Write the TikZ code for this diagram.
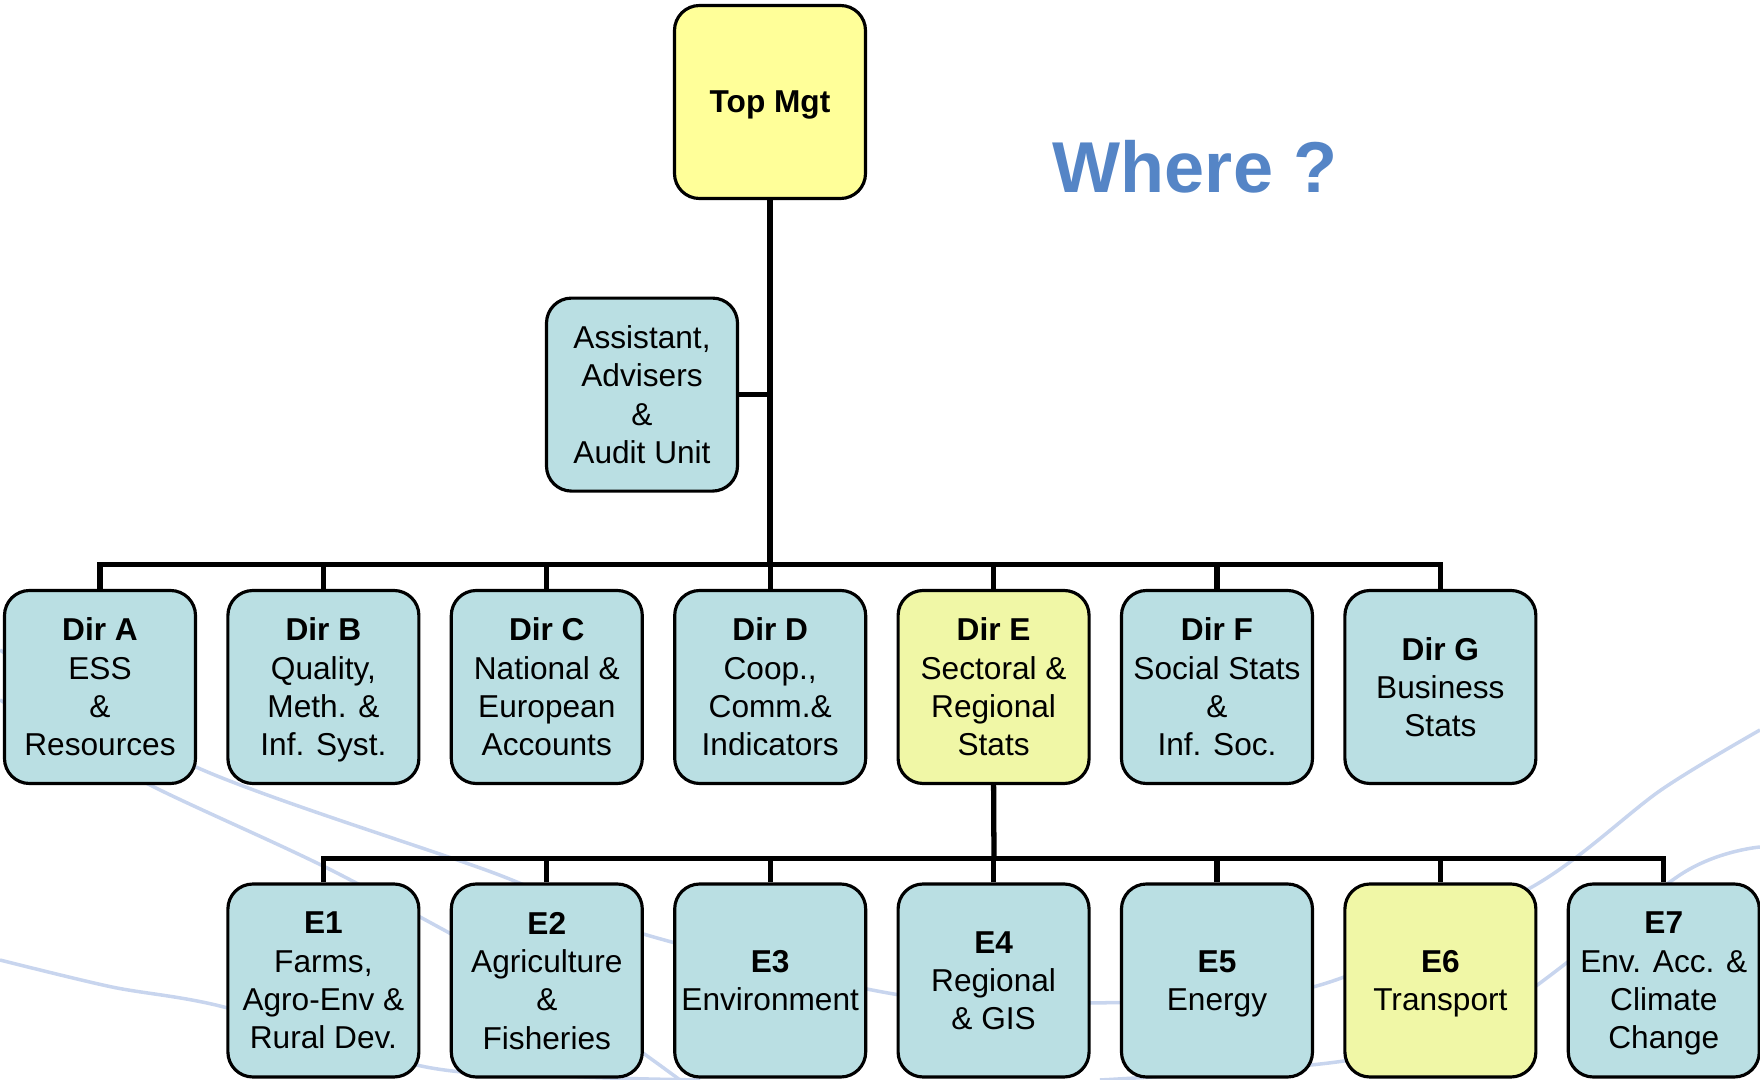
\documentclass[tikz,border=0pt]{standalone}
\usepackage{fontspec}
\setmainfont{Liberation Sans}
\definecolor{unitblue}{RGB}{186,223,227}
\definecolor{topyellow}{RGB}{255,255,153}
\definecolor{hereyellow}{RGB}{240,247,166}
\definecolor{wherecol}{RGB}{85,133,198}
\definecolor{swoosh}{RGB}{200,213,238}
\tikzset{
    unit/.style={draw=black, line width=0.9pt, fill=unitblue, rounded corners=0.25cm,
        minimum width=1.91cm, minimum height=1.93cm, inner sep=0pt, align=center,
        text depth=0pt, font=\fontsize{9}{10.9}\selectfont},
    orgline/.style={line width=1.5pt, line join=miter},
}
\begin{document}
\begin{tikzpicture}
    \useasboundingbox (0,0) rectangle (17.6,-10.8);
    \newcommand{\gap}{2.234}
    % background lines
    \draw[swoosh, line width=1pt] plot[smooth] coordinates {(0,-6.5) (1.96,-7.67) (4.94,-8.73) (6.4,-9.33) (9.0,-9.95) (10.9,-10.03) (13.13,-9.87) (15.32,-8.87) (16.61,-7.9) (17.6,-7.3)};
    \draw[swoosh, line width=1pt] plot[smooth] coordinates {(0,-7.0) (1.46,-7.83) (3.37,-8.73) (5.5,-9.9) (6.8,-10.8)};
    \draw[swoosh, line width=1pt] plot[smooth] coordinates {(0,-9.6) (1.12,-9.87) (2.24,-10.07) (4.26,-10.67) (5.84,-10.77) (7.0,-10.8)};
    \draw[swoosh, line width=1pt] plot[smooth] coordinates {(17.6,-8.47) (16.83,-8.73) (15.0,-10.1) (13.5,-10.6) (11.0,-10.8)};

    \node[unit, fill=topyellow] (top) at (7.70,-1.02) {\bfseries Top Mgt};
    \node[unit] (assist) at (6.42,-3.946) {Assistant,\\Advisers\\\&\\Audit Unit};

    \node[unit] (dirA) at (1.00,-6.87) {\bfseries Dir A\\ESS\\\&\\Resources};
    \node[unit] (dirB) at (1.00+\gap,-6.87) {\bfseries Dir B\\Quality,\\Meth. \&\\Inf. Syst.};
    \node[unit] (dirC) at (1.00+2*\gap,-6.87) {\bfseries Dir C\\National \&\\European\\Accounts};
    \node[unit] (dirD) at (1.00+3*\gap,-6.87) {\bfseries Dir D\\Coop.,\\Comm.\&\\Indicators};
    \node[unit, fill=hereyellow] (dirE) at (1.00+4*\gap,-6.87) {\bfseries Dir E\\Sectoral \&\\Regional\\Stats};
    \node[unit] (dirF) at (1.00+5*\gap,-6.87) {\bfseries Dir F\\Social Stats\\\&\\Inf. Soc.};
    \node[unit] (dirG) at (1.00+6*\gap,-6.87) {\bfseries Dir G\\Business\\Stats};

    \node[unit] (e1) at (1.00+\gap,-9.805) {\bfseries E1\\Farms,\\Agro-Env \&\\Rural Dev.};
    \node[unit] (e2) at (1.00+2*\gap,-9.805) {\bfseries E2\\Agriculture\\\&\\Fisheries};
    \node[unit] (e3) at (1.00+3*\gap,-9.805) {\bfseries E3\\Environment};
    \node[unit] (e4) at (1.00+4*\gap,-9.805) {\bfseries E4\\Regional\\\& GIS};
    \node[unit] (e5) at (1.00+5*\gap,-9.805) {\bfseries E5\\Energy};
    \node[unit, fill=hereyellow] (e6) at (1.00+6*\gap,-9.805) {\bfseries E6\\Transport};
    \node[unit] (e7) at (1.00+7*\gap,-9.805) {\bfseries E7\\Env. Acc. \&\\Climate\\Change};

    \node[anchor=base, text=wherecol, font=\fontsize{20.5}{24}\selectfont\bfseries] (where) at (11.95,-1.93) {Where ?};

    \coordinate (dbus) at (7.70,-5.646);
    \coordinate (ebus) at (9.94,-8.587);

    \draw[orgline] (top.south) -- (dbus);
    \draw[orgline] (assist.east) -- (assist.east -| top.south);
    \draw[orgline] (dirA.north) |- (dbus) -| (dirG.north);
    \foreach \d in {dirB,dirC,dirD,dirE,dirF}
        \draw[orgline] (\d.north) -- (\d.north |- dbus);
    \draw[orgline] (dirE.south) -- (ebus);
    \draw[orgline] (e1.north) |- (ebus) -| (e7.north);
    \foreach \e in {e2,e3,e4,e5,e6}
        \draw[orgline] (\e.north) -- (\e.north |- ebus);
\end{tikzpicture}
\end{document}
